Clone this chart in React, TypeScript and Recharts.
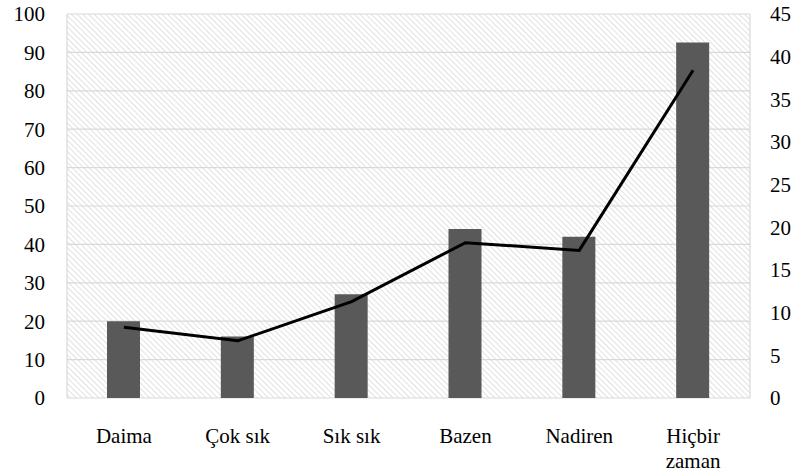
import { ComposedChart, Bar, Line, XAxis, YAxis, CartesianGrid } from 'recharts'

const categories = ['Daima', 'Çok sık', 'Sık sık', 'Bazen', 'Nadiren', 'Hiçbir zaman']
const barValues = [20, 16, 27, 44, 42, 92.6]
const lineValues = [8.3, 6.7, 11.3, 18.2, 17.3, 38.4]
const leftTicks = [0, 10, 20, 30, 40, 50, 60, 70, 80, 90, 100]
const rightTicks = [0, 5, 10, 15, 20, 25, 30, 35, 40, 45]
const boundaries = [-0.5, 0.5, 1.5, 2.5, 3.5, 4.5, 5.5]

const data = categories.map((c, i) => ({ idx: i, name: c, bar: barValues[i], line: lineValues[i] }))

const FONT = 'Liberation Serif'

const CatTick = (props: any) => {
  const { x, y, payload } = props
  const label: string = payload.value
  // long labels go on two lines
  const lines = label.length > 10 ? label.split(' ') : [label]
  return (
    <text x={x} y={y} textAnchor="middle" fontFamily={FONT} fontSize={21} fill="#000">
      {lines.map((l, i) => (
        <tspan key={i} x={x} dy={i === 0 ? '0.75em' : '1.2em'} fontFamily={FONT}>{l}</tspan>
      ))}
    </text>
  )
}

export default function App() {
  return (
    <div style={{ position: 'absolute', left: 0, top: 0, background: '#fff', fontFamily: FONT }}>
      <ComposedChart
        width={796}
        height={475}
        data={data}
        margin={{ top: 14, right: 0, bottom: 0, left: 0 }}
        style={{ fontFamily: FONT }}
      >
        <defs>
          <pattern id="hatch" width="4" height="4" patternUnits="userSpaceOnUse" patternTransform="rotate(-45)">
            <rect width="4" height="4" fill="#ffffff" />
            <line x1="0" y1="0" x2="0" y2="4" stroke="#d4d4d4" strokeWidth="1.4" />
          </pattern>
        </defs>
        <CartesianGrid xAxisId="grid" yAxisId="left" fill="url(#hatch)" stroke="#d9d9d9" strokeWidth={1.2} />
        <XAxis
          xAxisId="grid"
          type="number"
          dataKey="idx"
          domain={[-0.5, 5.5]}
          ticks={boundaries}
          tick={false}
          tickSize={7}
          tickLine={{ stroke: '#d9d9d9' }}
          axisLine={{ stroke: '#d9d9d9' }}
          height={0}
        />
        <XAxis
          dataKey="name"
          interval={0}
          height={77}
          tickLine={false}
          axisLine={false}
          tickSize={0}
          tickMargin={29}
          tick={<CatTick />}
        />
        <YAxis
          yAxisId="left"
          domain={[0, 100]}
          ticks={leftTicks}
          width={67}
          axisLine={false}
          tickLine={false}
          tickMargin={16}
          tick={{ fontFamily: FONT, fontSize: 21, fill: '#000' }}
        />
        <YAxis
          yAxisId="right"
          orientation="right"
          domain={[0, 45]}
          ticks={rightTicks}
          width={46}
          axisLine={false}
          tickLine={false}
          tickMargin={14}
          tick={{ fontFamily: FONT, fontSize: 21, fill: '#000' }}
        />
        <Bar yAxisId="left" dataKey="bar" fill="#595959" barSize={33} isAnimationActive={false} />
        <Line
          yAxisId="right"
          dataKey="line"
          type="linear"
          stroke="#000"
          strokeWidth={3}
          dot={false}
          isAnimationActive={false}
        />
      </ComposedChart>
    </div>
  )
}
